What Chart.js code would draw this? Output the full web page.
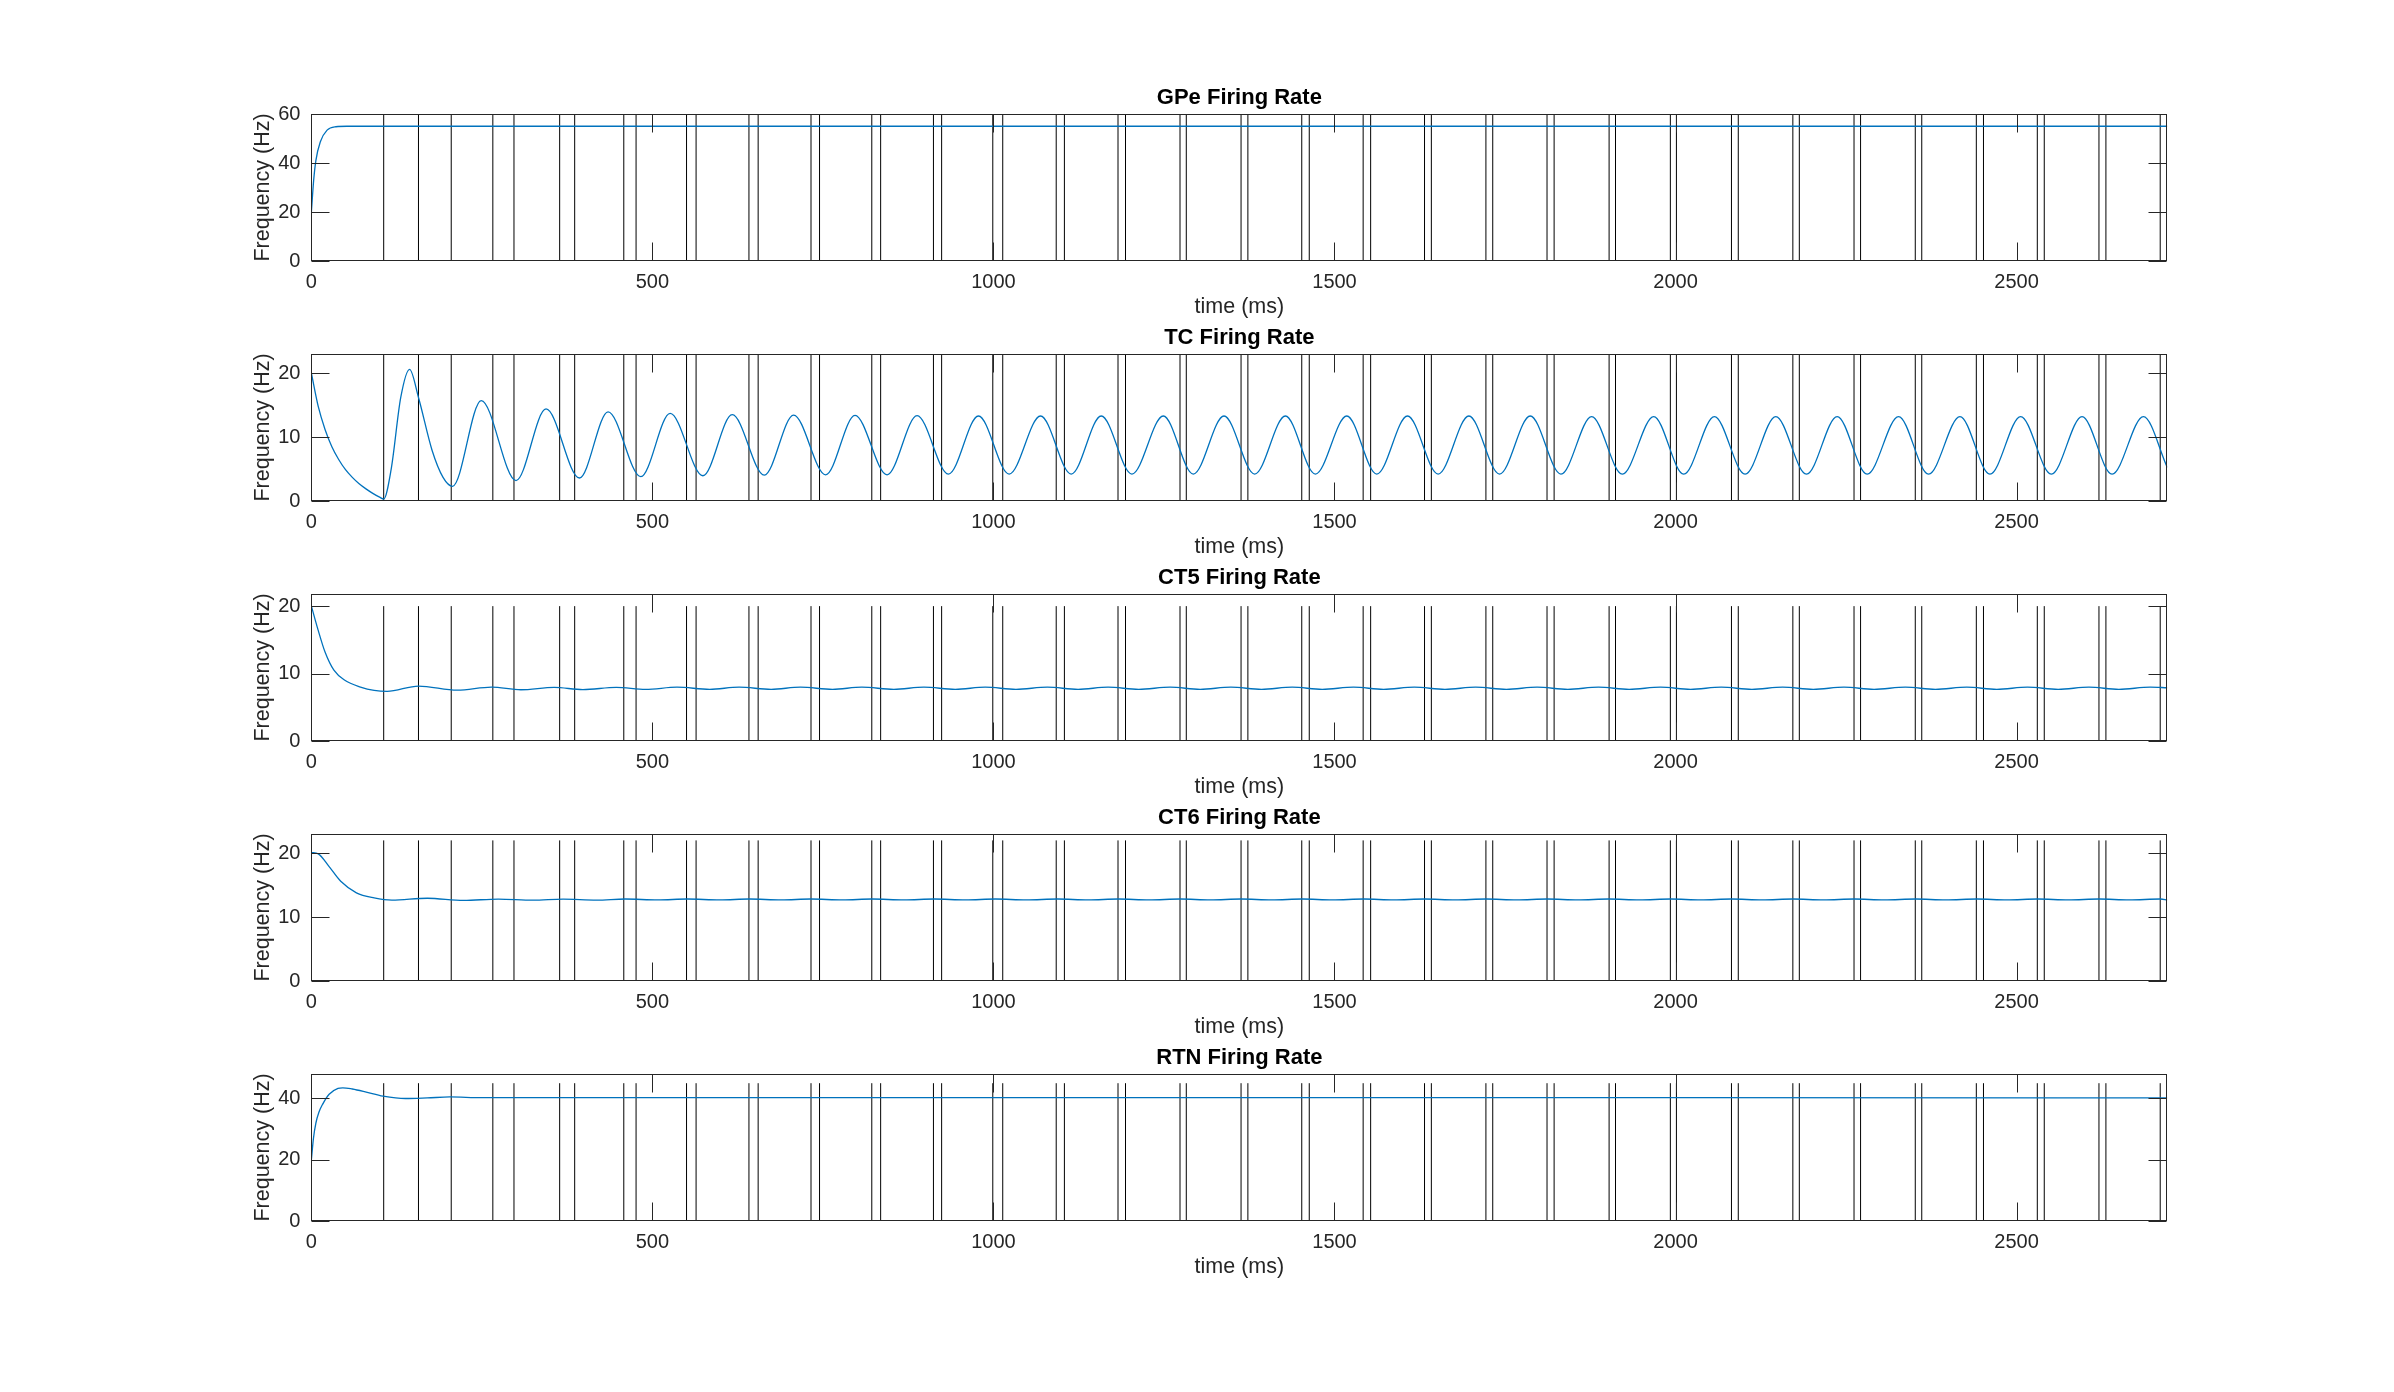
<!DOCTYPE html>
<html>
<head>
<meta charset="utf-8">
<script src="https://cdn.jsdelivr.net/npm/chart.js@4.4.0/dist/chart.umd.min.js"></script>
<style>
html,body{margin:0;padding:0;background:#fff;}
body{width:2394px;height:1392px;position:relative;overflow:hidden;}
canvas{position:absolute;left:0;}
</style>
</head>
<body>
<script>
// ---------------- DATA ----------------
const xTicks = [0, 500, 1000, 1500, 2000, 2500];
const xMax = 2721;

// stimulus times (ms) - vertical lines
const stimTimes = [106,157,205,266,297,364,386,458,476,550,564,641.5,655,732.5,745,821.6,834.6,
  912,924,999,1013.6,1092,1104,1182.6,1193.6,1273.5,1282.7,1363,1373,1452,1463,1542,1553,
  1632,1642,1722,1732,1811.6,1822,1902.6,1912,1992.4,2001.3,2082,2092,2172,2181.5,2261.7,2271.3,
  2351.5,2361,2441,2451.5,2530.4,2540.6,2620.8,2631,2710.6];

// GPe
const gpeT = [0,3.3,6.6,13,23,36,52,100,2721];
const gpeV = [20,32.9,41.1,48.6,53.4,54.8,55,55,55];
const gpeTicks = [0,20,40,60];

// TC
const tcT = [0,10,20,30,40,50,60,70,80,90,100,106,117,131,144,157,177,193,207,
  249,300,344,393,435,483,526,574,617,664,707,754,797,844,888,934,
  978,1023,1069,1114,1158,1203,1249,1293,1338,1383,1428,1472,1518,1562,1607,1652,1697,1742,1787,1832,
  1877,1922,1968,2012,2057,2102,2147,2192,2237,2281,2327,2371,2417,2461,2506,2551,2596,2640,
  2686,2721];
const tcV = [20,14.8,11.2,8.5,6.5,4.9,3.7,2.7,1.9,1.2,0.6,0.3,5,16.2,20.6,16.2,7.9,3.7,2.3,
  15.7,3.2,14.4,3.6,13.95,3.8,13.7,3.95,13.5,4.05,13.45,4.1,13.4,4.1,13.35,4.2,
  13.3,4.2,13.3,4.2,13.3,4.2,13.3,4.2,13.3,4.2,13.3,4.2,13.3,4.2,13.3,4.2,13.3,4.2,13.3,4.2,
  13.2,4.2,13.2,4.2,13.2,4.2,13.2,4.2,13.2,4.2,13.2,4.2,13.2,4.2,13.2,4.2,13.2,4.2,
  13.2,5.25];
const tcTicks = [0,10,20];

// CT5
const ct5T = [0,10,20,33,49,72,92,111,157,214,264,307,356,398,447,490,
  536,584,627,674,717,764,807,854,898,944,988,1033,1079,1124,1168,1213,1259,1303,1348,1393,
  1438,1482,1528,1572,1617,1662,1707,1752,1797,1842,1887,1932,1978,2022,2067,2112,2157,2202,
  2247,2291,2337,2381,2427,2471,2516,2561,2606,2650,2696,
  2721];
const ct5V = [20,16.4,13.2,10.5,9.0,8.0,7.5,7.35,8.15,7.55,8.0,7.6,7.95,7.62,7.95,7.65,
  7.98,7.67,7.98,7.67,7.98,7.67,7.98,7.67,7.98,7.67,7.98,7.67,7.98,7.67,7.98,7.67,7.98,7.67,7.98,7.67,
  7.98,7.67,7.98,7.67,7.98,7.67,7.98,7.67,7.98,7.67,7.98,7.67,7.98,7.67,7.98,7.67,7.98,7.67,
  7.98,7.67,7.98,7.67,7.98,7.67,7.98,7.67,7.98,7.67,7.98,
  7.9];
const ct5Ticks = [0,10,20];

// CT6
const ct6T = [0,10,26,43,66,92,118,170,223,274,325,369,418,
  460,508,551,599,642,689,732,779,822,869,913,959,1003,1048,1094,1139,1183,1228,1274,1318,
  1363,1408,1453,1497,1543,1587,1632,1677,1722,1767,1812,1857,1902,1947,1993,2037,2082,2127,
  2172,2217,2262,2306,2352,2396,2442,2486,2531,2576,2621,2665,2711,
  2721];
const ct6V = [20.1,19.9,17.9,15.6,13.8,13.0,12.65,12.95,12.6,12.82,12.64,12.8,12.66,
  12.83,12.68,12.83,12.68,12.83,12.68,12.83,12.68,12.83,12.68,12.83,12.68,12.83,12.68,12.83,12.68,12.83,12.68,12.83,12.68,12.83,12.68,
  12.83,12.68,12.83,12.68,12.83,12.68,12.83,12.68,12.83,12.68,12.83,12.68,12.83,12.68,12.83,12.68,12.83,12.68,
  12.83,12.68,12.83,12.68,12.83,12.68,12.83,12.68,12.83,12.68,12.83,12.68,12.83,
  12.8];
const ct6Ticks = [0,10,20];

// RTN
const rtnT = [0,3,6.6,11,16.4,26,39,46,60,79,105,138,170,203,250,300,1000,2000,2721];
const rtnV = [20,27,32,35.5,38.1,41.4,43.3,43.5,43.1,42.2,40.8,40.0,40.2,40.5,40.3,40.3,40.3,40.3,40.2];
const rtnTicks = [0,20,40];

// ---------------- PANELS ----------------
const panels = [
  {title:'GPe Firing Rate', t:gpeT, v:gpeV, ticks:gpeTicks, yMax:60,   stimTop:60},
  {title:'TC Firing Rate',  t:tcT,  v:tcV,  ticks:tcTicks,  yMax:23,   stimTop:23},
  {title:'CT5 Firing Rate', t:ct5T, v:ct5V, ticks:ct5Ticks, yMax:21.8, stimTop:20},
  {title:'CT6 Firing Rate', t:ct6T, v:ct6V, ticks:ct6Ticks, yMax:23,   stimTop:22},
  {title:'RTN Firing Rate', t:rtnT, v:rtnV, ticks:rtnTicks, yMax:48,   stimTop:45}
];

const FONT = "'Liberation Sans', Arial, Helvetica, sans-serif";
const AXC = '#262626';
const TOP0 = 114, GAP = 240, PLOT_H = 147, ABOVE = 30, BELOW = 64;
const LEFT = 311.4, RIGHT = 2167.3, W = 2394;

const frame = {
  id: 'frame',
  afterDatasetsDraw(chart) {
    const {ctx, chartArea: a, scales: {x, y}} = chart;
    const L = Math.round(a.left) + 0.5, R = Math.round(a.right) - 0.5;
    const T = Math.round(a.top) + 0.5, B = Math.round(a.bottom) - 0.5;
    ctx.save();
    ctx.strokeStyle = AXC;
    ctx.lineWidth = 1;
    ctx.strokeRect(L, T, R - L, B - T);
    const len = 18;
    ctx.beginPath();
    x.ticks.forEach(tk => {
      const px = Math.round(x.getPixelForValue(tk.value)) + 0.5;
      ctx.moveTo(px, B); ctx.lineTo(px, B - len);
      ctx.moveTo(px, T); ctx.lineTo(px, T + len);
    });
    y.ticks.forEach(tk => {
      const py = Math.round(y.getPixelForValue(tk.value)) + 0.5;
      ctx.moveTo(L, py); ctx.lineTo(L + len, py);
      ctx.moveTo(R, py); ctx.lineTo(R - len, py);
    });
    ctx.stroke();
    ctx.restore();
  }
};

panels.forEach((p, i) => {
  const cv = document.createElement('canvas');
  cv.width = W;
  cv.height = ABOVE + PLOT_H + BELOW;
  cv.style.width = W + 'px';
  cv.style.height = (ABOVE + PLOT_H + BELOW) + 'px';
  cv.style.top = (TOP0 + i * GAP - ABOVE) + 'px';
  document.body.appendChild(cv);

  const trace = p.t.map((t, k) => ({x: t, y: p.v[k]}));
  const stim = [];
  stimTimes.forEach(t => { stim.push({x: t, y: 0}, {x: t, y: p.stimTop}, {x: t, y: null}); });

  new Chart(cv, {
    type: 'line',
    data: {
      datasets: [
        {data: stim, borderColor: '#000', borderWidth: 1, pointRadius: 0, spanGaps: false, tension: 0, order: 2},
        {data: trace, borderColor: '#0072BD', borderWidth: 1.3, pointRadius: 0, cubicInterpolationMode: 'monotone', order: 1}
      ]
    },
    options: {
      responsive: false,
      animation: false,
      devicePixelRatio: 1,
      events: [],
      layout: {padding: {left: 0, right: W - RIGHT, top: 0, bottom: 0}},
      plugins: {
        legend: {display: false},
        tooltip: {enabled: false},
        title: {
          display: true, text: p.title, fullSize: false, color: '#000',
          font: {family: FONT, size: 22, weight: 'bold', lineHeight: 1.2},
          padding: {top: 0.5, bottom: 3.1}
        }
      },
      scales: {
        x: {
          type: 'linear', min: 0, max: xMax,
          afterBuildTicks: s => { s.ticks = xTicks.map(v => ({value: v})); },
          afterFit: s => { s.height = BELOW; },
          grid: {display: false, drawTicks: false},
          border: {display: false},
          ticks: {font: {family: FONT, size: 20, lineHeight: 1.2}, color: AXC, padding: 9.4, maxRotation: 0, autoSkip: false,
                  callback: v => String(v)},
          title: {display: true, text: 'time (ms)', color: AXC,
                  font: {family: FONT, size: 21.5, lineHeight: 1.2}, padding: {top: 0, bottom: 4.8}}
        },
        y: {
          type: 'linear', min: 0, max: p.yMax,
          afterBuildTicks: s => { s.ticks = p.ticks.map(v => ({value: v})); },
          afterFit: s => { s.width = LEFT; },
          grid: {display: false, drawTicks: false},
          border: {display: false},
          ticks: {font: {family: FONT, size: 20, lineHeight: 1.2}, color: AXC, padding: 11, autoSkip: false,
                  callback: v => String(v)},
          title: {display: true, text: 'Frequency (Hz)', color: AXC,
                  font: {family: FONT, size: 21.5, lineHeight: 1.2}, padding: {top: 250.1, bottom: 0}}
        }
      }
    },
    plugins: [frame]
  });
});
</script>
</body>
</html>
